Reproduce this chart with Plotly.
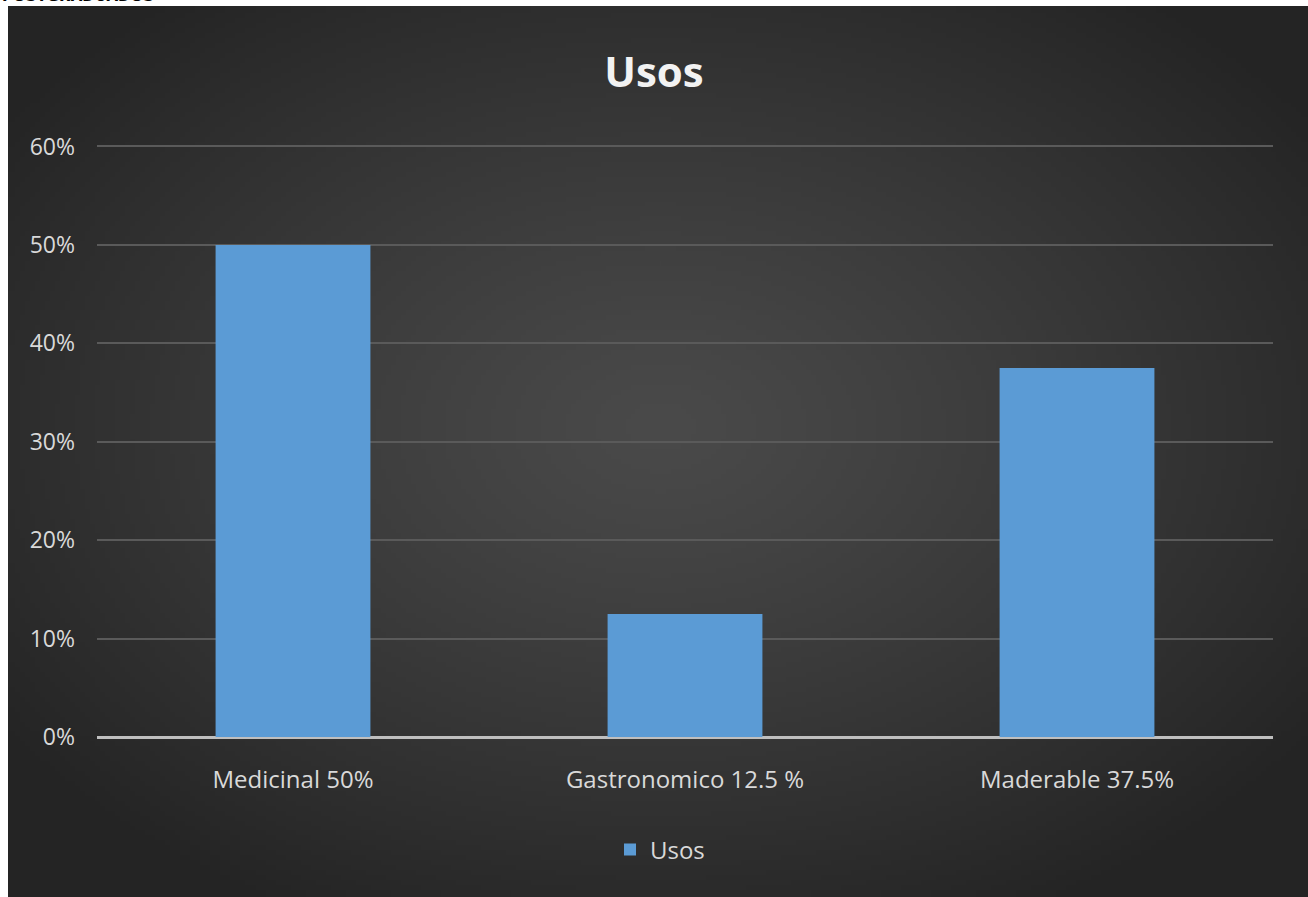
import base64, struct, zlib
import numpy as np
import plotly.graph_objects as go

categories = ["Medicinal 50%", "Gastronomico 12.5 %", "Maderable 37.5%"]
values = [0.50, 0.125, 0.375]
series_name = "Usos"
tick_vals = [0, 0.1, 0.2, 0.3, 0.4, 0.5, 0.6]
tick_text = ["0%", "10%", "20%", "30%", "40%", "50%", "60%"]

W, H = 1308, 897
ML, MR, MT, MB = 97, 35, 145, 160
PW, PH = W - ML - MR, H - MT - MB


def radial_png(w, h):
    yy, xx = np.mgrid[0:h, 0:w]
    cx, cy = w * 0.50, h * 0.47
    d = np.sqrt(((xx - cx) / (w * 0.62)) ** 2 + ((yy - cy) / (h * 0.62)) ** 2)
    d = np.clip(d, 0, 1)
    inner, outer = 74.0, 36.0
    v = inner + (outer - inner) * d ** 1.2
    img = np.clip(v, 0, 255).astype(np.uint8)
    rgb = np.stack([img, img, img], axis=-1)
    raw = b"".join(b"\x00" + rgb[r].tobytes() for r in range(h))

    def chunk(t, data):
        c = struct.pack(">I", len(data)) + t + data
        return c + struct.pack(">I", zlib.crc32(t + data) & 0xFFFFFFFF)

    png = b"\x89PNG\r\n\x1a\n"
    png += chunk(b"IHDR", struct.pack(">IIBBBBB", w, h, 8, 2, 0, 0, 0))
    png += chunk(b"IDAT", zlib.compress(raw, 9))
    png += chunk(b"IEND", b"")
    return "data:image/png;base64," + base64.b64encode(png).decode()


bg_left, bg_top = 8, 6
bg_img = radial_png(260, 180)

fig = go.Figure()
fig.add_trace(go.Bar(
    x=categories, y=values, name=series_name,
    marker=dict(color="#5B9BD5", line=dict(width=0)),
    showlegend=True,
))

font_family = "Open Sans, Noto Sans, sans-serif"

fig.update_layout(
    width=W, height=H,
    margin=dict(l=ML, r=MR, t=MT, b=MB, autoexpand=False),
    paper_bgcolor="white",
    plot_bgcolor="rgba(0,0,0,0)",
    bargap=0.605,
    font=dict(family=font_family, color="#d9d9d9"),
    title=dict(text="<b>Usos</b>", x=0.5, xanchor="center",
               y=1 - 72 / H, yanchor="middle",
               font=dict(size=42, color="#f2f2f2", family=font_family)),
    xaxis=dict(showgrid=False, showline=False, zeroline=False, ticks="",
               tickfont=dict(size=24, color="#d9d9d9"), ticklabelstandoff=26),
    yaxis=dict(range=[0, 0.6015], tickvals=tick_vals, ticktext=tick_text,
               showgrid=True, gridcolor="#5a5a5a", gridwidth=1.5,
               zeroline=True, zerolinecolor="#bfbfbf", zerolinewidth=2.5,
               showline=False, ticks="",
               tickfont=dict(size=23, color="#d9d9d9"), ticklabelstandoff=21),
    legend=dict(orientation="h", x=(660 - ML) / PW, xanchor="center",
                y=-(850 - (MT + PH)) / PH, yanchor="middle",
                font=dict(size=24, color="#d9d9d9"),
                bgcolor="rgba(0,0,0,0)", itemwidth=30),
    images=[dict(source=bg_img, xref="paper", yref="paper",
                 x=-(ML - bg_left) / PW, y=1 + (MT - bg_top) / PH,
                 sizex=(W - bg_left) / PW, sizey=(H - bg_top) / PH,
                 xanchor="left", yanchor="top", sizing="stretch",
                 layer="below", opacity=1)],
    annotations=[dict(text="<b>POSTGRADUADOS</b>", xref="paper", yref="paper",
                      x=-(ML - 0) / PW, y=1 + (MT + 4) / PH,
                      xanchor="left", yanchor="middle", showarrow=False,
                      font=dict(size=15, color="black", family="DejaVu Sans"))],
)

fig.write_html("out.html",
               config={"displayModeBar": False},
               post_script="document.body.style.margin='0';")
